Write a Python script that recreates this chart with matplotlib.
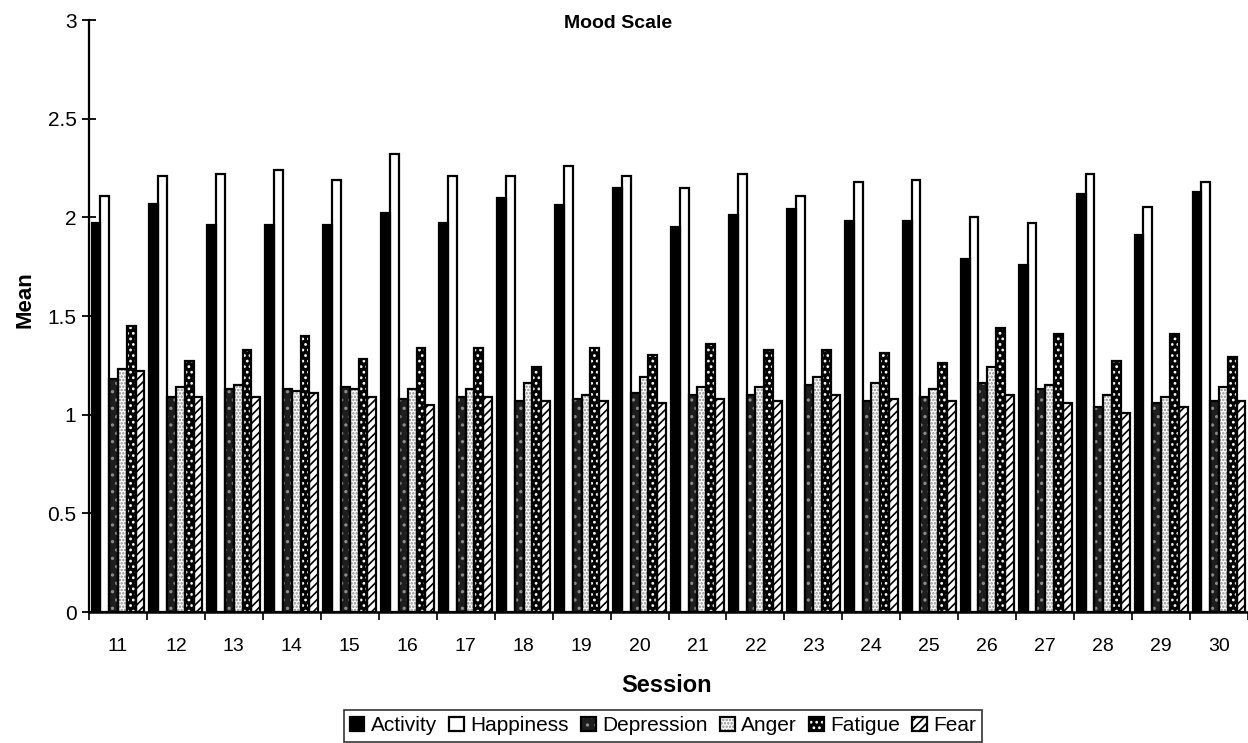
import matplotlib
matplotlib.use("Agg")
import matplotlib.pyplot as plt
import numpy as np
from matplotlib.legend_handler import HandlerTuple

plt.rcParams['font.family'] = ['Liberation Sans', 'DejaVu Sans']
plt.rcParams['hatch.linewidth'] = 1.2

sessions = ['11', '12', '13', '14', '15', '16', '17', '18', '19', '20',
            '21', '22', '23', '24', '25', '26', '27', '28', '29', '30']
activity   = [1.97, 2.07, 1.96, 1.96, 1.96, 2.02, 1.97, 2.10, 2.06, 2.15,
              1.95, 2.01, 2.04, 1.98, 1.98, 1.79, 1.76, 2.12, 1.91, 2.13]
happiness  = [2.11, 2.21, 2.22, 2.24, 2.19, 2.32, 2.21, 2.21, 2.26, 2.21,
              2.15, 2.22, 2.11, 2.18, 2.19, 2.00, 1.97, 2.22, 2.05, 2.18]
depression = [1.18, 1.09, 1.13, 1.13, 1.14, 1.08, 1.09, 1.07, 1.08, 1.11,
              1.10, 1.10, 1.15, 1.07, 1.09, 1.16, 1.13, 1.04, 1.06, 1.07]
anger      = [1.23, 1.14, 1.15, 1.12, 1.13, 1.13, 1.13, 1.16, 1.10, 1.19,
              1.14, 1.14, 1.19, 1.16, 1.13, 1.24, 1.15, 1.10, 1.09, 1.14]
fatigue    = [1.45, 1.27, 1.33, 1.40, 1.28, 1.34, 1.34, 1.24, 1.34, 1.30,
              1.36, 1.33, 1.33, 1.31, 1.26, 1.44, 1.41, 1.27, 1.41, 1.29]
fear       = [1.22, 1.09, 1.09, 1.11, 1.09, 1.05, 1.09, 1.07, 1.07, 1.06,
              1.08, 1.07, 1.10, 1.08, 1.07, 1.10, 1.06, 1.01, 1.04, 1.07]

series_names = ['Activity', 'Happiness', 'Depression', 'Anger', 'Fatigue', 'Fear']
series_vals = [activity, happiness, depression, anger, fatigue, fear]
# (facecolor, hatchcolor, hatch)
styles = [
    ('black', 'black', None),
    ('white', 'white', None),
    ('#1e1e1e', '#8a8a8a', '..'),
    ('white', '#8c8c8c', '.....'),
    ('black', 'white', '...'),
    ('white', 'black', '////'),
]

fig = plt.figure(figsize=(12.48, 7.43), dpi=100)
ax = fig.add_axes([89/1248, 1 - 612/743, 1 - 89/1248, (612 - 20)/743])

x = np.arange(len(sessions))
n = len(series_names)
w = 0.152
handles = []
for i, (name, vals, (fc, hc, h)) in enumerate(zip(series_names, series_vals, styles)):
    pos = x + (i - (n - 1) / 2) * w
    b1 = ax.bar(pos, vals, w, color=fc, edgecolor=hc, linewidth=0, hatch=h, zorder=2)
    b2 = ax.bar(pos, vals, w, fill=False, edgecolor='black', linewidth=1.6, zorder=3)
    handles.append((b1[0], b2[0]))

ax.set_xlim(-0.5, 19.26)
ax.set_ylim(0, 3)
ax.set_yticks([0, 0.5, 1, 1.5, 2, 2.5, 3])
ax.set_yticklabels(['0', '0.5', '1', '1.5', '2', '2.5', '3'], fontsize=15)
ax.tick_params(axis='y', direction='inout', length=10, width=1.3, pad=4)

ax.set_xticks(np.arange(len(sessions) + 1) - 0.5)
ax.set_xticklabels([])
ax.tick_params(axis='x', which='major', direction='out', length=6, width=1.2)
ax.set_xticks(x, minor=True)
ax.set_xticklabels(sessions, minor=True, fontsize=14)
ax.tick_params(axis='x', which='minor', length=0, pad=19)

for s in ['top', 'right']:
    ax.spines[s].set_visible(False)
ax.spines['left'].set_linewidth(1.6)
ax.spines['bottom'].set_linewidth(1.8)

fig.text(0.495, 1 - 23/743, 'Mood Scale', ha='center', va='center',
         fontsize=14, fontweight='bold')
fig.text(25/1248, 1 - 300/743, 'Mean', rotation=90, ha='center', va='center',
         fontsize=16, fontweight='bold')
fig.text(667/1248, 1 - 685/743, 'Session', ha='center', va='center',
         fontsize=17, fontweight='bold')

leg = fig.legend(handles, series_names, loc='upper center',
                 bbox_to_anchor=(663/1248, 1 - 710/743), ncol=6,
                 handler_map={tuple: HandlerTuple(ndivide=1)},
                 handlelength=0.7, handleheight=0.7, handletextpad=0.3,
                 columnspacing=0.6, fontsize=15, frameon=True, fancybox=False,
                 borderpad=0.3, borderaxespad=0)
leg.get_frame().set_edgecolor('black')
leg.get_frame().set_linewidth(1.2)

fig.savefig('out.png', dpi=100)
